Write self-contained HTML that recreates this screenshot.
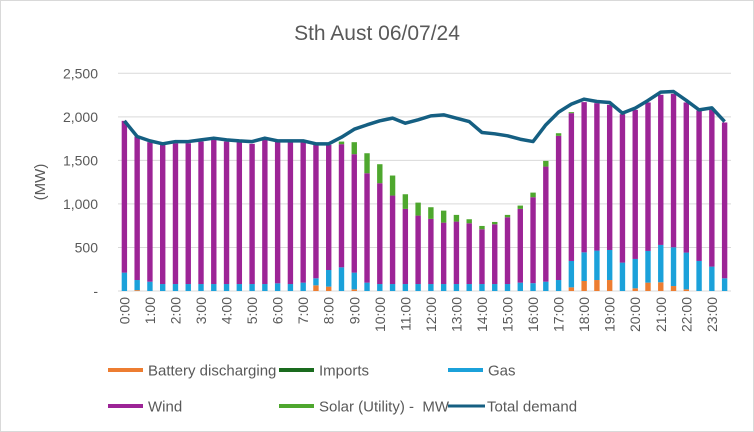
<!DOCTYPE html>
<html><head><meta charset="utf-8"><style>
body{margin:0;background:#fff;}
#wrap{position:relative;width:754px;height:432px;box-sizing:border-box;border:1px solid #d9d9d9;font-family:"Liberation Sans",sans-serif;color:#595959;}
</style></head><body>
<div id="wrap">
<svg id="chart" width="754" height="432" style="position:absolute;left:-1px;top:-1px"></svg>
</div>
<script>
const categories=[];for(let h=0;h<24;h++){categories.push(h+":00");categories.push(h+":30");}
const battery=[0,10,0,0,0,0,0,0,0,0,0,0,0,0,0,65,50,0,19,0,0,0,0,0,0,0,0,0,0,0,0,0,0,0,0,42,115,126,126,0,31,96,100,57,19,0,0,0];
const imports=[0,0,0,0,0,0,0,0,0,0,0,0,0,0,0,0,0,0,0,0,0,0,0,0,0,0,0,0,0,0,0,0,0,0,0,0,0,0,0,0,0,0,0,0,0,0,0,0];
const gas=[211,116,107,80,80,80,80,80,80,80,80,80,88,80,96,81,191,272,192,96,80,80,80,80,80,80,80,80,80,80,80,96,90,107,126,303,329,338,345,326,337,364,429,445,422,345,280,146];
const wind=[1743,1648,1602,1598,1617,1617,1636,1656,1636,1629,1610,1656,1628,1636,1613,1532,1437,1414,1360,1256,1158,1016,863,786,748,705,717,698,629,686,767,847,987,1322,1656,1697,1725,1693,1667,1705,1712,1705,1724,1762,1724,1728,1800,1789];
const solar=[0,0,0,0,0,0,0,0,0,0,0,0,0,0,0,0,0,30,138,230,218,230,168,149,134,138,77,46,38,27,27,38,53,65,30,12,0,0,0,0,0,0,0,0,0,0,0,0];
const demand=[1954,1774,1724,1690,1716,1716,1736,1755,1736,1724,1716,1755,1724,1724,1724,1690,1690,1766,1858,1908,1954,1985,1927,1966,2011,2023,1985,1946,1820,1805,1782,1743,1716,1908,2054,2146,2203,2176,2165,2042,2100,2188,2284,2291,2188,2080,2103,1946];
const yTicks=[0,500,1000,1500,2000,2500];
const yTickLabels=["-","500","1,000","1,500","2,000","2,500"];

const NS="http://www.w3.org/2000/svg";
const svg=document.getElementById('chart');
const L=118,R=731,Y0=291,Y1=73.3,YMAX=2500;
const bw=(R-L)/categories.length;
function x(i){return L+bw*(i+0.5);}
function y(v){return Y0-(v/YMAX)*(Y0-Y1);}
function mk(tag,attrs,parent){const e=document.createElementNS(NS,tag);for(const k in attrs)e.setAttribute(k,attrs[k]);(parent||svg).appendChild(e);return e;}

let t=mk('text',{x:377,y:40,'text-anchor':'middle','font-size':21,fill:'#595959','font-family':'Liberation Sans, sans-serif'});
t.textContent="Sth Aust 06/07/24";



yTicks.forEach((v,i)=>{
  if(i>0){const g=mk('line',{x1:L,x2:R,y1:y(v),y2:y(v),stroke:'#d9d9d9','stroke-width':1});
  
  }
  const tl=mk('text',{x:98,y:y(v)+5,'text-anchor':'end','font-size':14,fill:'#595959','font-family':'Liberation Sans, sans-serif'});
  tl.textContent=yTickLabels[i];
  
  
});
const ax=mk('line',{x1:L,x2:R,y1:Y0,y2:Y0,stroke:'#d9d9d9','stroke-width':1});



const yt=mk('text',{x:0,y:0,'text-anchor':'middle','font-size':15,fill:'#595959','font-family':'Liberation Sans, sans-serif',transform:'translate(45,182) rotate(-90)'});
yt.textContent="(MW)";



const series=[[battery,'#ED7D31','battery'],[imports,'#1A6B1E','imports'],[gas,'#1BA1DA','gas'],[wind,'#9C2496','wind'],[solar,'#4EA72E','solar']];
categories.forEach((c,i)=>{
  let base=0;
  series.forEach(([arr,col,nm])=>{
    const v=arr[i];if(v<=0)return;
    const r=mk('rect',{x:x(i)-2.7,width:5.4,y:y(base+v),height:y(base)-y(base+v),fill:col});
    
    
    base+=v;
  });
  if(i%2===0){
    const xl=mk('text',{x:0,y:0,'text-anchor':'end','font-size':14,fill:'#595959','font-family':'Liberation Sans, sans-serif',transform:`translate(${x(i)+5},297) rotate(-90)`});
    xl.textContent=c;
    
    
  }
});
const pl=mk('polyline',{points:demand.map((v,i)=>x(i)+','+y(v)).join(' '),fill:'none',stroke:'#155F82','stroke-width':3.5,'stroke-linejoin':'round'});



const legend=[['Battery discharging','#ED7D31',108,370,'rect'],['Imports','#1A6B1E',279,370,'rect'],['Gas','#1BA1DA',448,370,'rect'],['Wind','#9C2496',108,406,'rect'],['Solar (Utility) -\u00a0 MW','#4EA72E',279,406,'rect'],['Total demand','#155F82',448,406,'line']];
legend.forEach(([lab,col,lx,ly,kind])=>{
  const g=mk('g',{});
  
  
  if(kind==='rect')mk('rect',{x:lx,y:ly-2,width:35,height:4,fill:col},g);
  else mk('line',{x1:lx,x2:lx+37,y1:ly,y2:ly,stroke:col,'stroke-width':3},g);
  const tx=mk('text',{x:lx+(kind==='rect'?40:39),y:ly+5.5,'font-size':15,fill:'#595959','font-family':'Liberation Sans, sans-serif'},g);
  tx.textContent=lab;
});
</script>
</body></html>
